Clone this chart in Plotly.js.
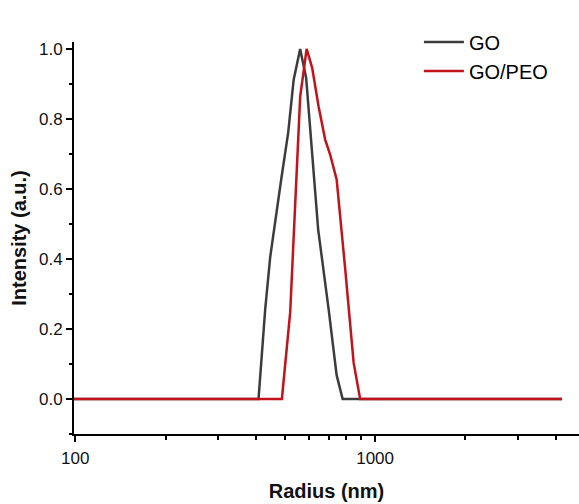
<!DOCTYPE html>
<html>
<head>
<meta charset="utf-8">
<script src="https://cdn.plot.ly/plotly-3.0.1.min.js"></script>
<style>html,body{margin:0;padding:0;background:#fff;}#chart{width:579px;height:504px;}</style>
</head>
<body>
<div id="chart"></div>
<script>
// GO series (radius nm, intensity a.u.)
const goRadius = [98, 408.4, 429.9, 446.7, 486.1, 512.9, 535.0, 562.3, 588.8, 645.7, 699.8, 744.1, 779.2, 4200];
const goIntensity = [0, 0, 0.256, 0.405, 0.627, 0.761, 0.912, 1.0, 0.917, 0.484, 0.256, 0.068, 0, 0];
// GO/PEO series
const peoRadius = [98, 488.7, 520.9, 562.3, 591.0, 616.6, 648.0, 681.3, 707.9, 744.1, 794.3, 848.0, 891.3, 4200];
const peoIntensity = [0, 0, 0.248, 0.863, 1.0, 0.946, 0.835, 0.741, 0.698, 0.627, 0.373, 0.103, 0, 0];

const xMajor = [100, 1000];
const xMajorLabels = ["100", "1000"];
const xMinor = [200, 300, 400, 500, 600, 700, 800, 900, 2000, 3000, 4000];
const yMajor = [0, 0.2, 0.4, 0.6, 0.8, 1.0];
const yMajorLabels = ["0.0", "0.2", "0.4", "0.6", "0.8", "1.0"];
const yMinor = [-0.1, 0.1, 0.3, 0.5, 0.7, 0.9];

const traces = [
  {x: goRadius, y: goIntensity, type: 'scatter', mode: 'lines', name: 'GO',
   line: {color: '#3c3c3c', width: 2.5}},
  {x: peoRadius, y: peoIntensity, type: 'scatter', mode: 'lines', name: 'GO/PEO',
   line: {color: '#c4121b', width: 2.5}}
];

const layout = {
  width: 579, height: 504,
  margin: {l: 74, r: 0, t: 42, b: 70},
  paper_bgcolor: '#fff', plot_bgcolor: '#fff',
  font: {family: 'Liberation Sans, Arial, sans-serif', color: '#111', size: 17},
  showlegend: true,
  legend: {x: 0.683, y: 1.05, xanchor: 'left', yanchor: 'top',
           font: {size: 20, color: '#000'}, bgcolor: 'rgba(0,0,0,0)', itemwidth: 40,
           tracegroupgap: 0},
  xaxis: {
    type: 'log', range: [Math.log10(99), 3.68],
    showgrid: false, zeroline: false,
    showline: true, linecolor: '#000', linewidth: 2,
    ticks: 'outside', ticklen: 6, tickwidth: 2, tickcolor: '#000',
    tickmode: 'array', tickvals: xMajor, ticktext: xMajorLabels,
    ticklabelstandoff: 2,
    tickfont: {size: 17, color: '#111'},
    minor: {tickmode: 'array', tickvals: xMinor, ticks: 'outside', ticklen: 4, tickwidth: 2, tickcolor: '#000', showgrid: false},
    title: {text: '<b>Radius (nm)</b>', font: {size: 20, color: '#111'}, standoff: 17}
  },
  yaxis: {
    range: [-0.1, 1.0197],
    showgrid: false, zeroline: false,
    showline: true, linecolor: '#000', linewidth: 2,
    ticks: 'outside', ticklen: 6, tickwidth: 2, tickcolor: '#000',
    tickmode: 'array', tickvals: yMajor, ticktext: yMajorLabels,
    tickfont: {size: 17, color: '#111'},
    minor: {tickmode: 'array', tickvals: yMinor, ticks: 'outside', ticklen: 3, tickwidth: 2, tickcolor: '#000', showgrid: false},
    title: {text: '<b>Intensity (a.u.)</b>', font: {size: 20, color: '#111'}, standoff: 7}
  }
};

Plotly.newPlot('chart', traces, layout, {displayModeBar: false, staticPlot: true});
</script>
</body>
</html>
